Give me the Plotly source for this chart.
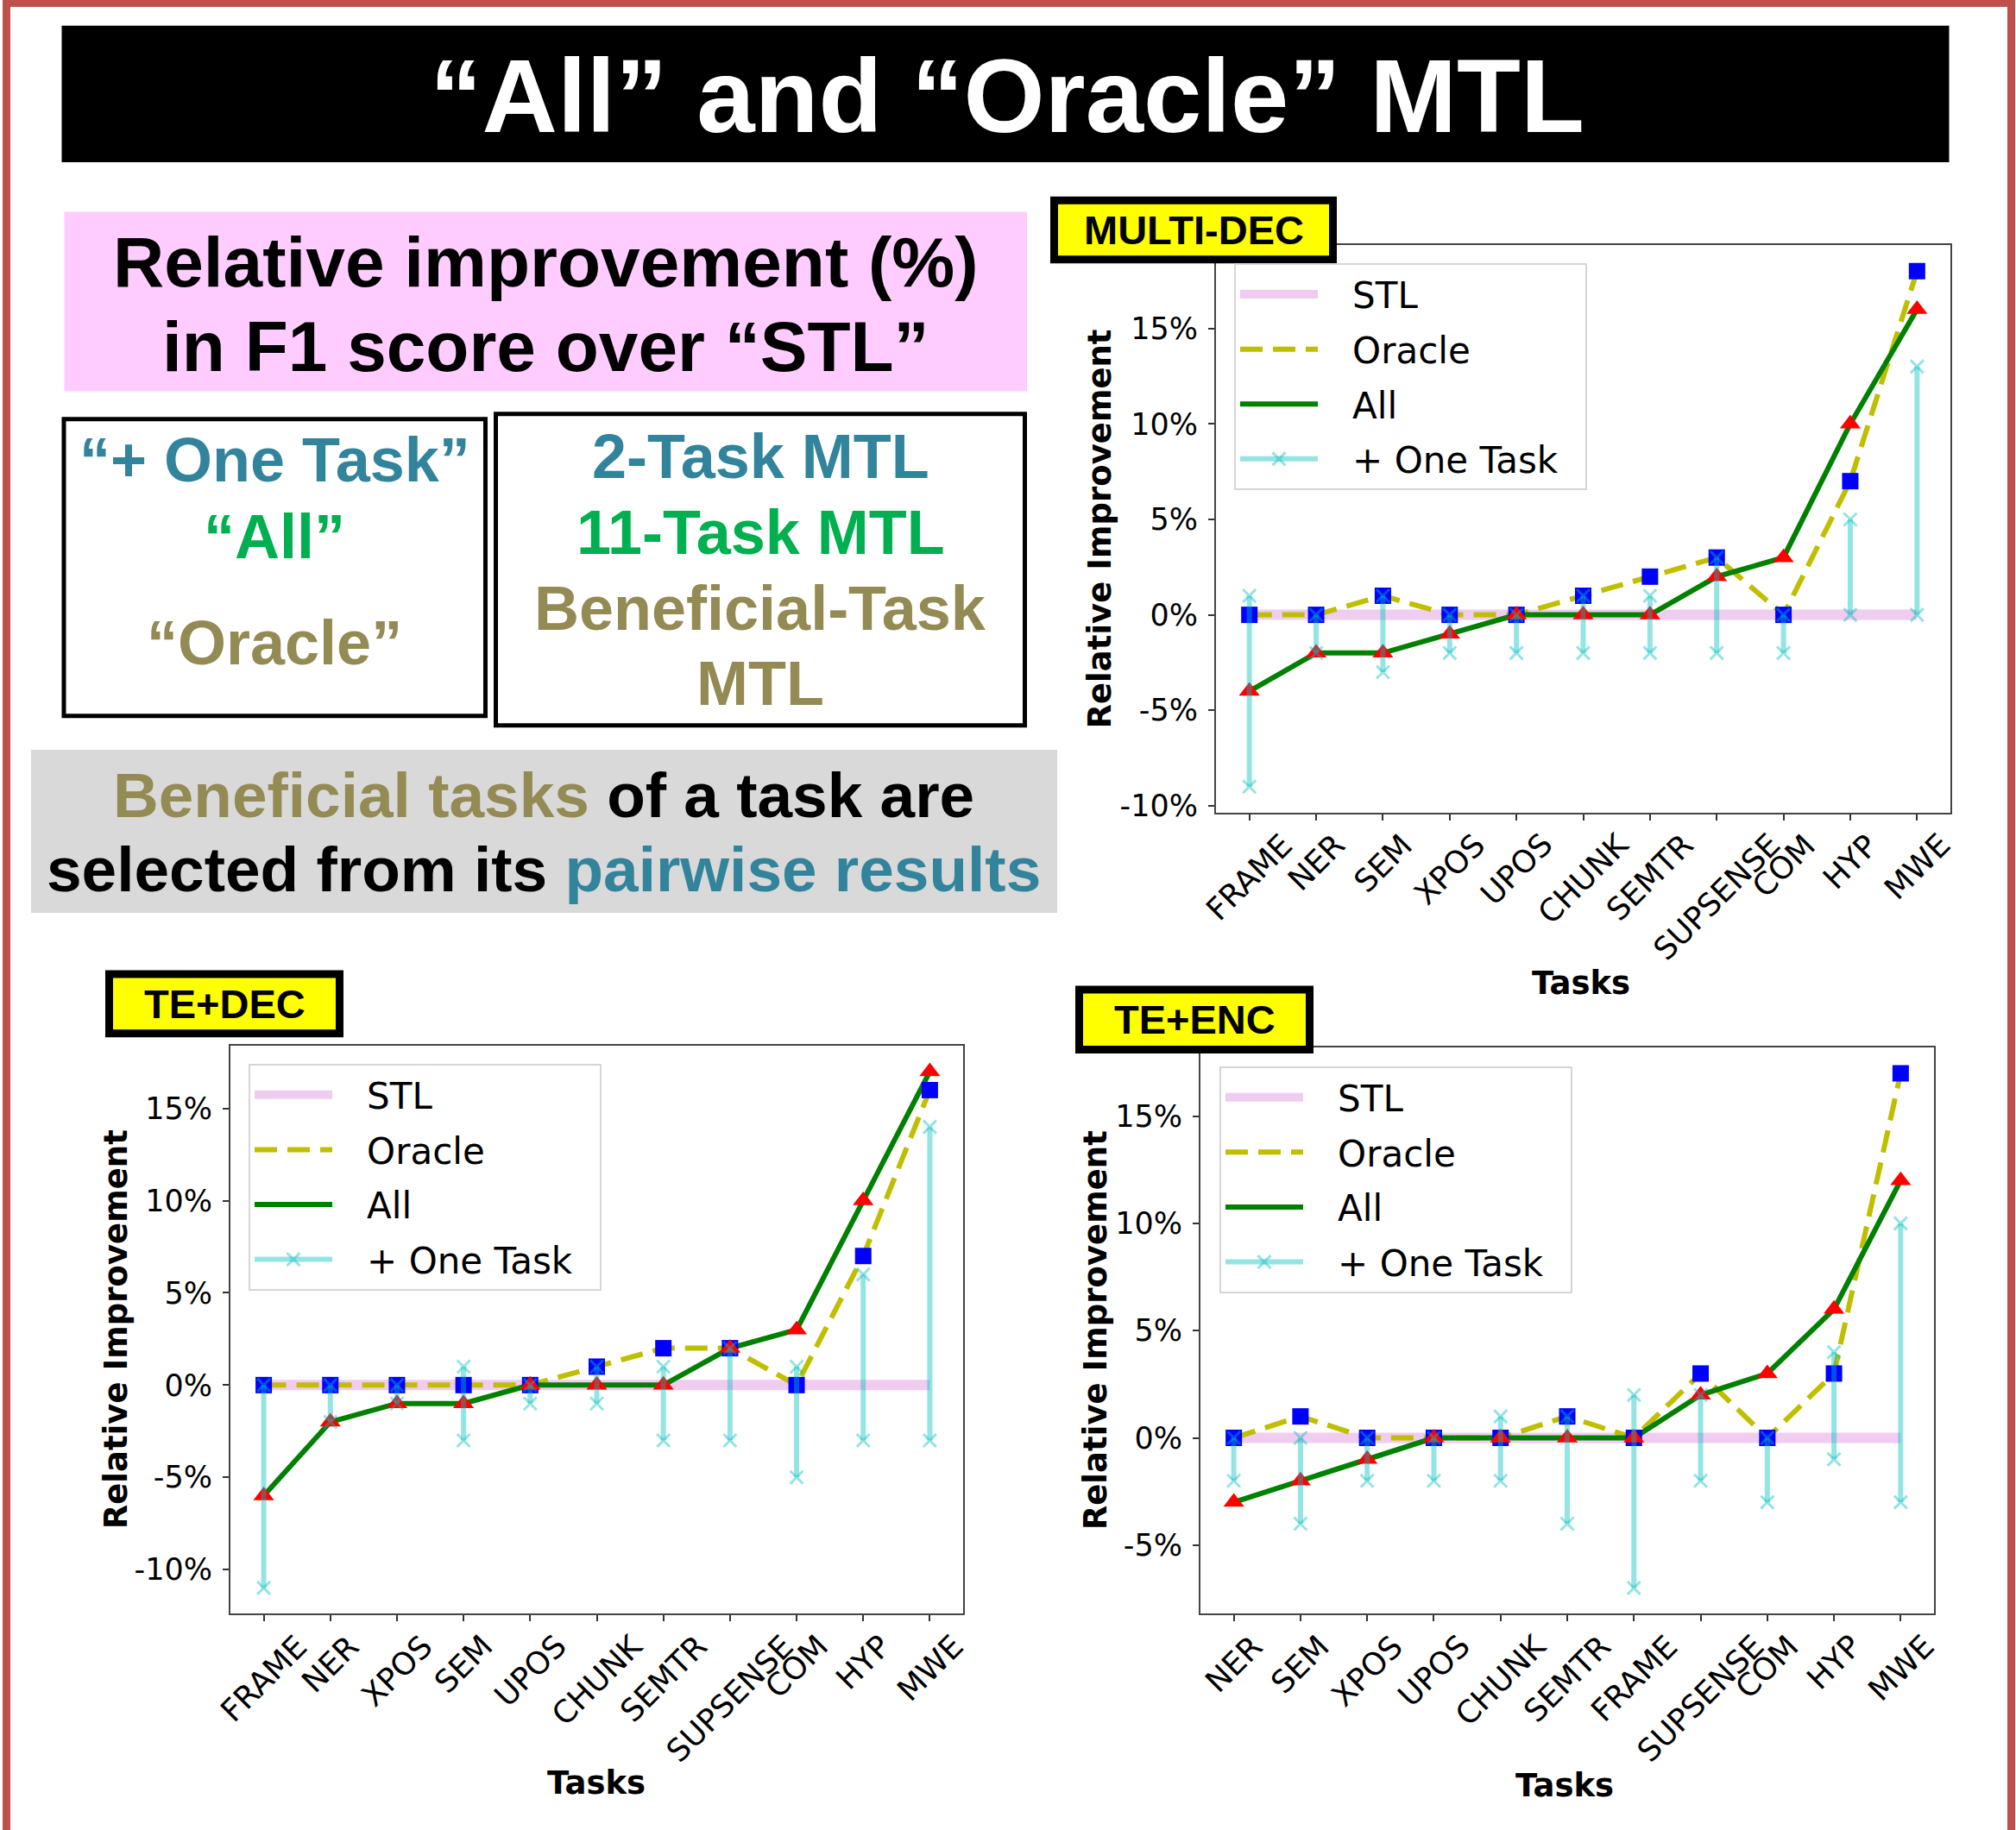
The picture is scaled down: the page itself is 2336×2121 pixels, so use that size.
import plotly.graph_objects as go

W, H = 2336, 2121

# ---------------- data ----------------
tasks_md = ["FRAME", "NER", "SEM", "XPOS", "UPOS", "CHUNK", "SEMTR", "SUPSENSE", "COM", "HYP", "MWE"]
stl_md = [0, 0, 0, 0, 0, 0, 0, 0, 0, 0, 0]
oracle_md = [0, 0, 1, 0, 0, 1, 2, 3, 0, 7, 18]
all_md = [-4, -2, -2, -1, 0, 0, 0, 2, 3, 10, 16]
one_lo_md = [-9, -2, -3, -2, -2, -2, -2, -2, -2, 0, 0]
one_hi_md = [1, 0, 1, 0, 0, 1, 1, 3, 0, 5, 13]

tasks_td = ["FRAME", "NER", "XPOS", "SEM", "UPOS", "CHUNK", "SEMTR", "SUPSENSE", "COM", "HYP", "MWE"]
stl_td = [0, 0, 0, 0, 0, 0, 0, 0, 0, 0, 0]
oracle_td = [0, 0, 0, 0, 0, 1, 2, 2, 0, 7, 16]
all_td = [-6, -2, -1, -1, 0, 0, 0, 2, 3, 10, 17]
one_lo_td = [-11, -2, -1, -3, -1, -1, -3, -3, -5, -3, -3]
one_hi_td = [0, 0, 0, 1, 0, 1, 1, 2, 1, 6, 14]

tasks_te = ["NER", "SEM", "XPOS", "UPOS", "CHUNK", "SEMTR", "FRAME", "SUPSENSE", "COM", "HYP", "MWE"]
stl_te = [0, 0, 0, 0, 0, 0, 0, 0, 0, 0, 0]
oracle_te = [0, 1, 0, 0, 0, 1, 0, 3, 0, 3, 17]
all_te = [-3, -2, -1, 0, 0, 0, 0, 2, 3, 6, 12]
one_lo_te = [-2, -4, -2, -2, -2, -4, -7, -2, -3, -1, -3]
one_hi_te = [0, 0, 0, 0, 1, 1, 2, 2, 0, 4, 10]

yticks_md = [-10, -5, 0, 5, 10, 15]
yticks_td = [-10, -5, 0, 5, 10, 15]
yticks_te = [-5, 0, 5, 10, 15]

chart_titles = ["MULTI-DEC", "TE+DEC", "TE+ENC"]
legend_names = ["STL", "Oracle", "All", "+ One Task"]

# ---------------- styling ----------------
TEAL = "#31849B"
GREENT = "#00B050"
OLIVE = "#948A54"
STL_C = "rgb(240,204,240)"
ORA_C = "#BFBF00"
ALL_C = "#008000"
ONE_C = "rgba(0,191,191,0.42)"
SANS = "Liberation Sans, Arial, sans-serif"
DJV = "DejaVu Sans, sans-serif"
NB = "\u00a0"


def X(px):
    return px / W


def Y(py):
    return 1 - py / H


def lname(s):
    return NB * 2 + "\u2009" + s + NB * 2


fig = go.Figure()

charts = [
    dict(n=1, tasks=tasks_md, stl=stl_md, ora=oracle_md, al=all_md, lo=one_lo_md, hi=one_hi_md,
         box=(1409, 286, 2260, 947), yr=[-10.35, 19.35], yt=yticks_md, leg=(1430, 307),
         ytitle=(1275, 617), xtitle=(1832, 1146),
         lab=(1217, 229, 1549, 307)),
    dict(n=2, tasks=tasks_td, stl=stl_td, ora=oracle_td, al=all_td, lo=one_lo_td, hi=one_hi_td,
         box=(267, 1219, 1116, 1881), yr=[-12.4, 18.4], yt=yticks_td, leg=(288, 1240),
         ytitle=(134, 1550), xtitle=(691, 2078),
         lab=(122, 1131, 398, 1209)),
    dict(n=3, tasks=tasks_te, stl=stl_te, ora=oracle_te, al=all_te, lo=one_lo_te, hi=one_hi_te,
         box=(1391, 1221, 2241, 1881), yr=[-8.2, 18.2], yt=yticks_te, leg=(1413, 1243),
         ytitle=(1269, 1551), xtitle=(1813, 2081),
         lab=(1246, 1149, 1522, 1228)),
]

annotations = []
shapes = []
layout_axes = {}

for c in charts:
    n = c["n"]
    xa = "x" if n == 1 else f"x{n}"
    ya = "y" if n == 1 else f"y{n}"
    leg = "legend" if n == 1 else f"legend{n}"
    com = dict(xaxis=xa, yaxis=ya, legend=leg, hoverinfo="skip")
    t = c["tasks"]
    fig.add_trace(go.Scatter(x=t, y=c["stl"], mode="lines", name=lname(legend_names[0]),
                             legendgroup=f"{leg}a", line=dict(color=STL_C, width=12), **com))
    fig.add_trace(go.Scatter(x=t, y=c["ora"], mode="lines", name=lname(legend_names[1]),
                             legendgroup=f"{leg}b",
                             line=dict(color=ORA_C, width=6, dash="26px,12px"), **com))
    fig.add_trace(go.Scatter(x=t, y=c["al"], mode="lines", name=lname(legend_names[2]),
                             legendgroup=f"{leg}c", line=dict(color=ALL_C, width=6), **com))
    fig.add_trace(go.Scatter(x=t, y=c["ora"], mode="markers", showlegend=False,
                             marker=dict(symbol="square", color="#0000FF", size=19), **com))
    fig.add_trace(go.Scatter(x=t, y=c["al"], mode="markers", showlegend=False,
                             marker=dict(symbol="triangle-up", color="#FF0000", size=21), **com))
    sx, sy = [], []
    for tk, a, b in zip(t, c["lo"], c["hi"]):
        sx += [tk, tk, None]
        sy += [a, b, None]
    fig.add_trace(go.Scatter(x=sx, y=sy, mode="lines+markers", name=lname(legend_names[3]),
                             legendgroup=f"{leg}d",
                             line=dict(color=ONE_C, width=6),
                             marker=dict(symbol="x-thin", size=15, color=ONE_C,
                                         line=dict(color=ONE_C, width=3)),
                             connectgaps=False, **com))

    x0, y0, x1, y1 = c["box"]
    xkey = "xaxis" if n == 1 else f"xaxis{n}"
    ykey = "yaxis" if n == 1 else f"yaxis{n}"
    layout_axes[xkey] = dict(domain=[X(x0), X(x1)], anchor=ya, type="category",
                             categoryorder="array", categoryarray=t, range=[-0.5, 10.5],
                             showticklabels=False, ticks="outside", ticklen=7, tickwidth=2,
                             tickcolor="#333", showline=True, mirror=True, linecolor="#444",
                             linewidth=2, showgrid=False, zeroline=False, fixedrange=True)
    layout_axes[ykey] = dict(domain=[Y(y1), Y(y0)], anchor=xa, range=c["yr"],
                             tickvals=c["yt"], ticktext=[f"{v}%" for v in c["yt"]],
                             ticks="outside", ticklen=7, tickwidth=2, tickcolor="#333",
                             tickfont=dict(family=DJV, size=35, color="black"),
                             ticklabelstandoff=5,
                             showline=True, mirror=True, linecolor="#444", linewidth=2,
                             showgrid=False, zeroline=False, fixedrange=True)
    lx, ly = c["leg"]
    layout_axes[leg] = dict(x=X(lx), y=Y(ly), xanchor="left", yanchor="top",
                            bgcolor="rgba(255,255,255,0.85)", bordercolor="#D6D6D6", borderwidth=2,
                            font=dict(family=DJV, size=42, color="black"),
                            itemwidth=90, tracegroupgap=6)

    # rotated x tick labels (matplotlib-style, centred below each tick)
    for tk in t:
        annotations.append(dict(x=tk, xref=xa, y=0, yref=f"{ya} domain", yshift=-14,
                                text=tk, showarrow=False, textangle=-45,
                                xanchor="center", yanchor="top",
                                font=dict(family=DJV, size=36, color="black")))
    # axis titles
    tx, ty = c["ytitle"]
    annotations.append(dict(x=X(tx), y=Y(ty), xref="paper", yref="paper", showarrow=False,
                            text="<b>Relative Improvement</b>", textangle=-90,
                            xanchor="center", yanchor="middle",
                            font=dict(family=DJV, size=37, color="black")))
    tx, ty = c["xtitle"]
    annotations.append(dict(x=X(tx), y=Y(ty), xref="paper", yref="paper", showarrow=False,
                            text="<b>Tasks</b>", xanchor="center", yanchor="middle",
                            font=dict(family=DJV, size=37, color="black")))
    # yellow chart label
    bx0, by0, bx1, by1 = c["lab"]
    shapes.append(dict(type="rect", xref="paper", yref="paper", layer="above",
                       x0=X(bx0 + 4.5), x1=X(bx1 - 4.5), y0=Y(by0 + 4.5), y1=Y(by1 - 4.5),
                       fillcolor="#FFFF00", line=dict(color="black", width=9)))
    annotations.append(dict(x=X((bx0 + bx1) / 2), y=Y((by0 + by1) / 2), xref="paper", yref="paper",
                            showarrow=False, text=f"<b>{chart_titles[n - 1]}</b>",
                            xanchor="center", yanchor="middle",
                            font=dict(family=SANS, size=47, color="black")))

# ---------------- slide decorations ----------------
shapes += [
    dict(type="rect", xref="paper", yref="paper", layer="below",
         x0=X(71.5), x1=X(2258.5), y0=Y(189), y1=Y(30), fillcolor="black", line=dict(width=0)),
    dict(type="rect", xref="paper", yref="paper", layer="below",
         x0=X(74.5), x1=X(1190), y0=Y(456), y1=Y(247), fillcolor="#FFCCFF", line=dict(width=0)),
    dict(type="rect", xref="paper", yref="paper", layer="below",
         x0=X(74), x1=X(562.5), y0=Y(834.5), y1=Y(488.5), line=dict(color="black", width=5)),
    dict(type="rect", xref="paper", yref="paper", layer="below",
         x0=X(574.5), x1=X(1187.5), y0=Y(845.5), y1=Y(482.5), line=dict(color="black", width=5)),
    dict(type="rect", xref="paper", yref="paper", layer="below",
         x0=X(36), x1=X(1225), y0=Y(1064), y1=Y(874), fillcolor="#D9D9D9", line=dict(width=0)),
    dict(type="rect", xref="paper", yref="paper", layer="above",
         x0=X(7.5), x1=X(2330.5), y0=Y(2140), y1=Y(3.5), line=dict(color="#C0504D", width=9)),
]


def txt(x, y, s, size, color="black"):
    annotations.append(dict(x=X(x), y=Y(y), xref="paper", yref="paper", showarrow=False,
                            text=f"<b>{s}</b>", xanchor="center", yanchor="middle",
                            font=dict(family=SANS, size=size, color=color)))


txt(1167, 112, "“All” and “Oracle” MTL", 121, "white")
txt(632, 305, "Relative improvement (%)", 82)
txt(632, 404, "in F1 score over “STL”", 82)
txt(318, 536, "“+ One Task”", 72, TEAL)
txt(318, 626, "“All”", 72, GREENT)
txt(318, 749, "“Oracle”", 72, OLIVE)
txt(881, 532, "2-Task MTL", 72, TEAL)
txt(881, 621, "11-Task MTL", 72, GREENT)
txt(881, 709, "Beneficial-Task", 72, OLIVE)
txt(881, 797, "MTL", 72, OLIVE)
txt(630, 927, f"<span style='color:{OLIVE}'>Beneficial tasks</span> of a task are", 73)
txt(630, 1013, f"selected from its <span style='color:{TEAL}'>pairwise results</span>", 73)

fig.update_layout(width=W, height=H, margin=dict(l=0, r=0, t=0, b=0),
                  paper_bgcolor="white", plot_bgcolor="white",
                  showlegend=True, annotations=annotations, shapes=shapes, **layout_axes)

fig.write_html("out.html", config={"displayModeBar": False},
               post_script="document.body.style.margin='0px';document.body.style.overflow='hidden';")
